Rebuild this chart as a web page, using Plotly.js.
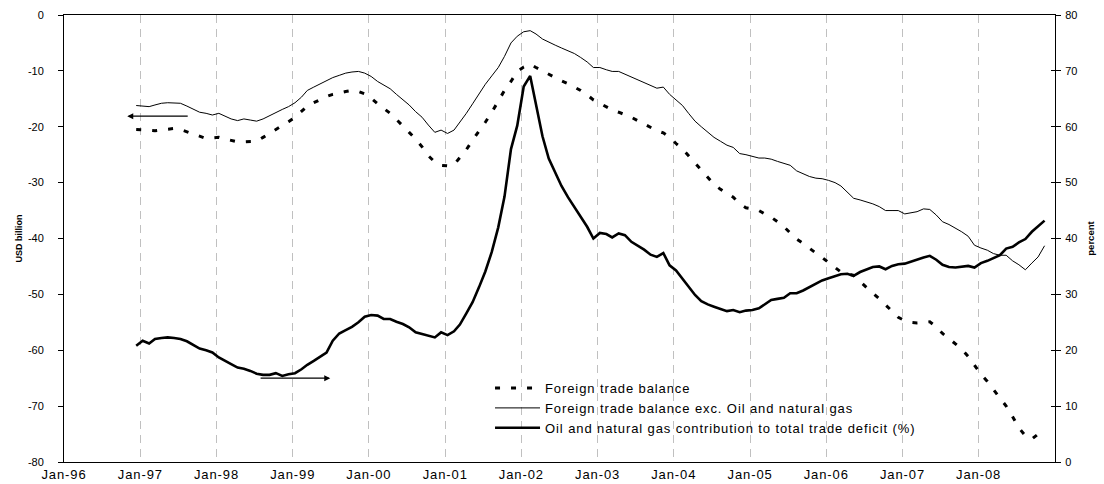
<!DOCTYPE html>
<html>
<head>
<meta charset="utf-8">
<script src="https://cdn.plot.ly/plotly-3.0.1.min.js"></script>
<style>
  html, body { margin: 0; padding: 0; background: #fff; }
  #chart { width: 1104px; height: 484px; }
  .xtick text, .legendtext { letter-spacing: 0.9px; }
</style>
</head>
<body>
<div id="chart"></div>
<script>
// Monthly observations: Dec 1996 .. Nov 2008
const startYear = 1996, startMonth = 12, nMonths = 144;
const months = [];
for (let k = 0; k < nMonths; k++) {
  const mi = startMonth - 1 + k;
  const y = startYear + Math.floor(mi / 12);
  const m = (mi % 12) + 1;
  months.push(y + '-' + String(m).padStart(2, '0') + '-12');
}

// Foreign trade balance (USD billion, left axis)
const tradeBalance = [
  -20.5,-20.5,-20.6,-20.7,-20.6,-20.4,-20.3,-20.5,-20.9,-21.3,-21.7,-22.1,
  -22.0,-21.9,-22.2,-22.5,-22.7,-22.7,-22.6,-22.6,-21.9,-21.2,-20.6,-19.9,
  -19.1,-18.3,-17.3,-16.3,-15.7,-15.1,-14.6,-14.2,-13.9,-13.7,-13.5,-13.7,
  -14.1,-14.9,-15.9,-16.7,-17.6,-18.7,-19.8,-21.0,-22.2,-23.6,-25.2,-26.3,
  -26.9,-27.0,-26.8,-25.6,-24.1,-22.4,-20.8,-19.2,-17.4,-15.3,-13.5,-11.9,
  -10.1,-9.3,-8.8,-9.4,-10.0,-10.7,-11.3,-11.8,-12.3,-12.9,-13.5,-14.3,
  -15.2,-15.8,-16.5,-17.0,-17.4,-17.8,-18.3,-18.9,-19.5,-20.1,-20.7,-21.1,
  -21.9,-23.0,-24.0,-25.2,-26.5,-27.7,-29.1,-30.3,-31.2,-31.9,-32.6,-33.8,
  -34.5,-34.7,-35.0,-35.6,-36.2,-37.0,-37.9,-39.0,-40.1,-40.9,-41.8,-42.6,
  -43.4,-44.3,-45.2,-46.0,-46.3,-46.6,-47.7,-48.8,-49.8,-50.8,-51.8,-53.0,
  -54.1,-54.7,-55.0,-55.1,-55.0,-54.9,-55.8,-57.0,-57.9,-58.9,-59.8,-61.1,
  -62.7,-64.3,-65.6,-67.0,-68.4,-70.0,-71.9,-73.9,-75.3,-75.9,-75.0,-73.8
];

// Foreign trade balance exc. oil and natural gas (USD billion, left axis)
const tradeBalanceExOil = [
  -16.2,-16.3,-16.4,-16.1,-15.8,-15.7,-15.8,-15.8,-16.3,-16.9,-17.4,-17.6,
  -17.9,-17.6,-18.2,-18.6,-18.9,-18.6,-18.8,-19.0,-18.6,-18.0,-17.4,-16.9,
  -16.4,-15.7,-14.7,-13.5,-12.9,-12.3,-11.8,-11.2,-10.8,-10.4,-10.2,-10.1,
  -10.4,-11.0,-11.9,-12.6,-13.2,-14.2,-15.2,-16.1,-17.3,-18.3,-19.7,-21.0,
  -20.6,-21.2,-20.6,-19.2,-17.6,-15.9,-14.0,-12.4,-10.9,-9.4,-7.4,-5.0,
  -3.8,-3.0,-2.8,-3.4,-4.3,-4.9,-5.4,-5.9,-6.4,-6.9,-7.6,-8.4,
  -9.4,-9.4,-9.8,-10.1,-10.1,-10.6,-11.2,-11.6,-12.1,-12.7,-13.1,-12.9,
  -14.2,-15.2,-16.2,-17.6,-19.0,-20.0,-21.0,-21.9,-22.6,-23.3,-23.7,-24.8,
  -25.0,-25.3,-25.6,-25.6,-25.8,-26.2,-26.6,-26.9,-27.9,-28.4,-28.9,-29.2,
  -29.3,-29.6,-30.0,-30.6,-31.8,-32.8,-33.1,-33.4,-33.8,-34.3,-35.0,-35.0,
  -35.0,-35.6,-35.4,-35.2,-34.7,-34.8,-35.8,-37.0,-37.5,-38.1,-38.8,-39.6,
  -41.2,-41.7,-42.1,-42.7,-43.0,-43.0,-44.0,-44.7,-45.6,-44.4,-43.3,-41.3
];

// Oil and natural gas contribution to total trade deficit (percent, right axis)
const oilContribution = [
  20.8,21.7,21.2,22.0,22.2,22.3,22.2,22.0,21.6,21.0,20.3,20.0,
  19.6,18.7,18.0,17.5,16.9,16.7,16.3,15.8,15.6,15.6,15.9,15.4,
  15.7,15.9,16.6,17.4,18.1,18.8,19.6,21.7,23.0,23.6,24.2,25.0,
  26.0,26.3,26.2,25.6,25.6,25.1,24.7,24.1,23.2,22.9,22.6,22.3,
  23.2,22.7,23.4,24.6,26.6,28.6,31.3,34.1,37.6,42.0,47.5,56.0,
  60.2,67.2,69.1,64.2,58.3,54.3,51.7,49.4,47.4,45.6,43.9,42.1,
  40.0,41.0,40.8,40.2,40.9,40.6,39.4,38.7,38.0,37.1,36.7,37.4,
  35.2,34.3,32.8,31.2,29.9,28.8,28.2,27.8,27.4,27.0,27.2,26.8,
  27.1,27.2,27.5,28.2,29.0,29.2,29.4,30.2,30.2,30.7,31.3,31.9,
  32.5,32.9,33.2,33.6,33.7,33.3,34.0,34.5,34.9,35.0,34.5,35.1,
  35.4,35.5,35.9,36.3,36.6,36.9,36.2,35.3,34.9,34.8,34.9,35.1,
  34.8,35.6,36.0,36.5,37.0,38.2,38.5,39.3,39.9,41.2,42.2,43.2
];

const seriesNames = [
  'Foreign trade balance',
  'Foreign trade balance exc. Oil and natural gas',
  'Oil and natural gas contribution to total trade deficit (%)'
];
const xTickDates = ['1996-01-01','1997-01-01','1998-01-01','1999-01-01','2000-01-01','2001-01-01',
  '2002-01-01','2003-01-01','2004-01-01','2005-01-01','2006-01-01','2007-01-01','2008-01-01'];
const xTickLabels = ['Jan-96','Jan-97','Jan-98','Jan-99','Jan-00','Jan-01','Jan-02',
  'Jan-03','Jan-04','Jan-05','Jan-06','Jan-07','Jan-08'];
const leftTicks = [0, -10, -20, -30, -40, -50, -60, -70, -80];
const rightTicks = [0, 10, 20, 30, 40, 50, 60, 70, 80];

const FONT = 'Liberation Sans, Arial, sans-serif';

const traces = [
  {
    x: months, y: tradeBalance, name: seriesNames[0], type: 'scatter', mode: 'lines',
    line: { color: '#000', width: 3, dash: '5px,11px' }, yaxis: 'y'
  },
  {
    x: months, y: tradeBalanceExOil, name: seriesNames[1], type: 'scatter', mode: 'lines',
    line: { color: '#000', width: 1 }, yaxis: 'y'
  },
  {
    x: months, y: oilContribution, name: seriesNames[2], type: 'scatter', mode: 'lines',
    line: { color: '#000', width: 2.6 }, yaxis: 'y2'
  },
  // helper trace registering yaxis3 (cross ticks on the right axis)
  { x: [months[0]], y: [null], yaxis: 'y3', showlegend: false, hoverinfo: 'skip', mode: 'lines' }
];

const layout = {
  width: 1104, height: 484,
  margin: { l: 64, r: 49, t: 15, b: 22, pad: 0 },
  paper_bgcolor: '#fff', plot_bgcolor: '#fff',
  font: { family: FONT, color: '#000', size: 11 },
  showlegend: true,
  legend: {
    x: 0.4299, y: 0.199, xanchor: 'left', yanchor: 'top',
    bgcolor: 'rgba(0,0,0,0)', borderwidth: 0,
    font: { family: FONT, size: 13, color: '#000' },
    itemwidth: 45, tracegroupgap: 0
  },
  xaxis: {
    type: 'date',
    range: ['1996-01-01', '2009-01-01'],
    tickmode: 'array', tickvals: xTickDates, ticktext: xTickLabels,
    ticks: '', showline: true, linecolor: '#000', linewidth: 1, mirror: true,
    showgrid: true, gridcolor: '#c0c0c0', gridwidth: 1, griddash: '8px,6px',
    zeroline: false,
    tickfont: { family: FONT, size: 13, color: '#000' }
  },
  yaxis: {
    range: [-80, 0], tickmode: 'array', tickvals: leftTicks, ticktext: leftTicks.map(String),
    ticks: 'outside', ticklen: 5, tickcolor: '#000', tickwidth: 1,
    showline: true, linecolor: '#000', linewidth: 1,
    showgrid: false, zeroline: false,
    ticklabelstandoff: 12,
    tickfont: { family: FONT, size: 11, color: '#000' },
    title: { text: 'USD billion', font: { family: FONT, size: 9, color: '#000', weight: 'bold' }, standoff: 3 }
  },
  yaxis2: {
    range: [0, 80], tickmode: 'array', tickvals: rightTicks, ticktext: rightTicks.map(String),
    overlaying: 'y', side: 'right',
    ticks: 'outside', ticklen: 5, tickcolor: '#000', tickwidth: 1,
    showline: true, linecolor: '#000', linewidth: 1,
    showgrid: false, zeroline: false,
    ticklabelstandoff: 2,
    tickfont: { family: FONT, size: 11, color: '#000' },
    title: { text: 'percent', font: { family: FONT, size: 9.5, color: '#000', weight: 'bold' }, standoff: 10 }
  },
  yaxis3: {
    range: [0, 80], tickmode: 'array', tickvals: rightTicks, overlaying: 'y', side: 'right',
    ticks: 'inside', ticklen: 4, tickcolor: '#000', tickwidth: 1,
    showticklabels: false, showline: false, showgrid: false, zeroline: false
  },
  annotations: [
    {
      xref: 'x', yref: 'y', axref: 'x', ayref: 'y',
      x: '1996-10-30', y: -18.1, ax: '1997-08-23', ay: -18.1,
      text: '', showarrow: true, arrowhead: 2, arrowsize: 1, arrowwidth: 1.2,
      arrowcolor: '#000', standoff: 0, startstandoff: 0
    },
    {
      xref: 'x', yref: 'y2', axref: 'x', ayref: 'y2',
      x: '1999-06-30', y: 15.0, ax: '1998-07-24', ay: 15.0,
      text: '', showarrow: true, arrowhead: 2, arrowsize: 1, arrowwidth: 1.2,
      arrowcolor: '#000', standoff: 0, startstandoff: 0
    }
  ]
};

Plotly.newPlot('chart', traces, layout, { staticPlot: true, displayModeBar: false });
</script>
</body>
</html>
